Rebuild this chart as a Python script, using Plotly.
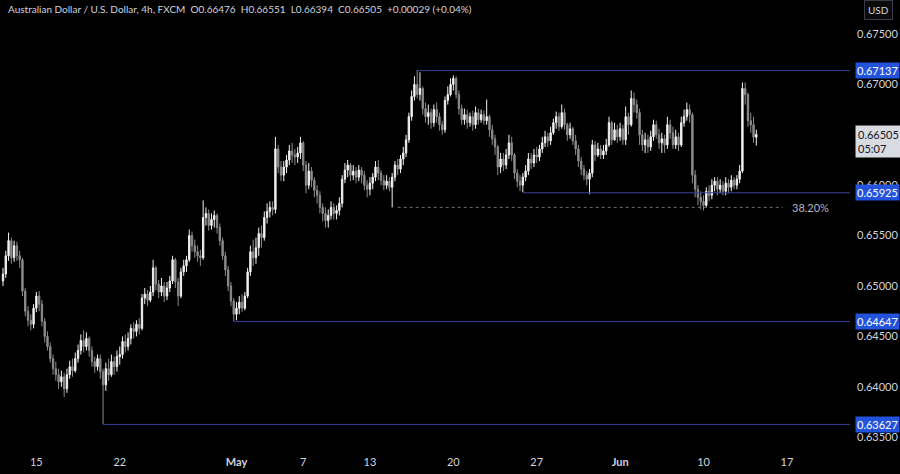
import plotly.graph_objects as go

# ---- data (prices in pips, 1 pip = 0.0001) ----
first_open = 6505
closes = [
    6512, 6530, 6545, 6528, 6540, 6530, 6526, 6495, 6475, 6466, 6462, 6478,
    6490, 6482, 6465, 6450, 6440, 6428,
    6418, 6412, 6405, 6410, 6398, 6412,
    6420, 6416, 6428, 6436, 6446, 6440,
    6448, 6436, 6425, 6420, 6428, 6415,
    6402, 6418, 6412, 6425, 6420, 6430,
    6432, 6445, 6440, 6448, 6458, 6455,
    6462, 6458, 6488, 6492, 6486, 6494,
    6518, 6502, 6494, 6500, 6490, 6498,
    6505, 6526, 6504, 6490, 6514, 6520,
    6526, 6550, 6540, 6534, 6530, 6528,
    6568, 6572, 6560, 6566, 6570, 6558,
    6545, 6530, 6516, 6500, 6485, 6472,
    6478, 6484, 6478, 6490, 6514, 6534,
    6528, 6538, 6552, 6548, 6568, 6574,
    6578, 6576, 6636, 6618, 6610, 6618,
    6625, 6634, 6630, 6628, 6632, 6642,
    6620, 6600, 6614, 6605, 6595, 6590,
    6578, 6572, 6565, 6570, 6578, 6572,
    6575, 6582, 6606, 6615, 6620, 6610,
    6614, 6608, 6615, 6610, 6600, 6596,
    6602, 6608, 6618, 6612, 6605, 6600,
    6604, 6598, 6608, 6620, 6616, 6626,
    6632, 6645, 6668, 6688, 6700, 6690,
    6696, 6676, 6668, 6672, 6662, 6675,
    6668, 6660, 6655, 6684, 6690, 6700,
    6706, 6690, 6676, 6665, 6670, 6662,
    6668, 6660, 6672, 6665, 6670, 6664,
    6668, 6655, 6646, 6638, 6618, 6626,
    6620, 6630, 6642, 6630, 6612, 6604,
    6600, 6608, 6614, 6626, 6622, 6630,
    6628, 6636, 6642, 6648, 6644, 6652,
    6662, 6668, 6658, 6672, 6660, 6650,
    6656, 6644, 6636, 6624, 6616, 6610,
    6606, 6612, 6640, 6630, 6636, 6630,
    6634, 6640, 6662, 6645, 6655, 6648,
    6656, 6645, 6668, 6660, 6686, 6680,
    6672, 6650, 6640, 6645, 6638, 6648,
    6660, 6650, 6642, 6646, 6640, 6660,
    6652, 6640, 6648, 6640, 6662, 6668,
    6675, 6670, 6610, 6596, 6588, 6584,
    6580, 6594, 6590, 6600, 6604, 6596,
    6600, 6594, 6602, 6598, 6605, 6600,
    6606, 6614, 6696, 6690, 6664, 6660,
    6647.6, 6650.5,
]
highs = [
    6518, 6535, 6553, 6548, 6545, 6544, 6535, 6528, 6498, 6480, 6472, 6482,
    6494, 6495, 6486, 6468, 6455, 6444,
    6432, 6425, 6418, 6416, 6414, 6418,
    6426, 6428, 6434, 6442, 6452, 6456,
    6454, 6450, 6440, 6430, 6432, 6432,
    6418, 6424, 6428, 6432, 6430, 6436,
    6440, 6450, 6452, 6454, 6462, 6464,
    6466, 6468, 6492, 6498, 6496, 6500,
    6526, 6520, 6506, 6508, 6504, 6504,
    6510, 6530, 6528, 6508, 6518, 6526,
    6530, 6556, 6554, 6546, 6540, 6536,
    6585, 6578, 6576, 6572, 6575, 6572,
    6562, 6548, 6534, 6520, 6504, 6488,
    6484, 6490, 6492, 6494, 6518, 6540,
    6546, 6548, 6558, 6560, 6574, 6582,
    6584, 6584, 6648, 6640, 6624, 6624,
    6630, 6640, 6642, 6636, 6638, 6648,
    6644, 6624, 6622, 6618, 6608, 6600,
    6594, 6582, 6578, 6576, 6584, 6582,
    6580, 6588, 6610, 6622, 6625, 6622,
    6620, 6618, 6620, 6618, 6614, 6605,
    6608, 6612, 6624, 6625, 6615, 6610,
    6610, 6608, 6612, 6624, 6626, 6630,
    6638, 6650, 6672, 6694, 6708, 6714,
    6712, 6698, 6682, 6680, 6676, 6680,
    6682, 6672, 6664, 6688, 6698, 6706,
    6709, 6708, 6694, 6680, 6676, 6675,
    6672, 6674, 6678, 6676, 6675, 6674,
    6685, 6670, 6660, 6650, 6640, 6632,
    6632, 6636, 6650, 6648, 6632, 6616,
    6610, 6612, 6620, 6632, 6632, 6636,
    6638, 6640, 6648, 6654, 6652, 6658,
    6666, 6673, 6672, 6680, 6676, 6662,
    6662, 6658, 6650, 6640, 6628, 6620,
    6614, 6616, 6645, 6644, 6642, 6640,
    6640, 6646, 6668, 6664, 6662, 6660,
    6662, 6660, 6678, 6672, 6694, 6692,
    6685, 6676, 6655, 6652, 6650, 6654,
    6665, 6664, 6656, 6652, 6650, 6668,
    6665, 6658, 6655, 6652, 6668, 6675,
    6682, 6680, 6672, 6615, 6600, 6594,
    6590, 6598, 6600, 6606, 6608, 6608,
    6606, 6604, 6608, 6606, 6610, 6608,
    6610, 6620, 6702, 6702, 6692, 6672,
    6668, 6655.1,
]
lows = [
    6500, 6508, 6525, 6522, 6524, 6525, 6518, 6490, 6470, 6460, 6456, 6458,
    6474, 6475, 6460, 6444, 6436, 6424,
    6412, 6406, 6398, 6400, 6390, 6394,
    6408, 6410, 6414, 6424, 6432, 6434,
    6436, 6430, 6420, 6414, 6416, 6408,
    6363, 6396, 6406, 6410, 6412, 6415,
    6422, 6428, 6434, 6436, 6442, 6448,
    6450, 6452, 6456, 6482, 6480, 6484,
    6490, 6496, 6488, 6490, 6484, 6486,
    6494, 6502, 6498, 6480, 6488, 6510,
    6514, 6524, 6534, 6528, 6524, 6520,
    6526, 6560, 6555, 6556, 6558, 6552,
    6540, 6526, 6510, 6495, 6480, 6465,
    6466, 6472, 6474, 6476, 6488, 6510,
    6520, 6522, 6530, 6538, 6545, 6562,
    6568, 6570, 6572, 6612, 6604, 6604,
    6612, 6620, 6622, 6620, 6622, 6626,
    6614, 6592, 6596, 6598, 6588, 6582,
    6572, 6564, 6558, 6558, 6566, 6566,
    6566, 6570, 6578, 6602, 6608, 6604,
    6605, 6602, 6604, 6602, 6595, 6588,
    6590, 6596, 6604, 6605, 6600, 6595,
    6596, 6594, 6578, 6604, 6610, 6612,
    6620, 6628, 6642, 6664, 6684, 6686,
    6684, 6670, 6662, 6660, 6656, 6658,
    6662, 6654, 6650, 6652, 6680, 6688,
    6694, 6686, 6670, 6660, 6660, 6656,
    6658, 6654, 6656, 6660, 6662, 6660,
    6660, 6648, 6640, 6630, 6610, 6612,
    6614, 6616, 6626, 6624, 6606, 6598,
    6594, 6593, 6604, 6610, 6616, 6618,
    6622, 6624, 6632, 6638, 6638, 6640,
    6650, 6656, 6654, 6656, 6655, 6644,
    6646, 6640, 6630, 6618, 6610, 6605,
    6600, 6591, 6608, 6624, 6628, 6626,
    6626, 6630, 6638, 6640, 6644, 6642,
    6644, 6640, 6640, 6650, 6658, 6672,
    6666, 6640, 6634, 6632, 6632, 6634,
    6644, 6646, 6636, 6632, 6632, 6636,
    6646, 6636, 6636, 6634, 6638, 6658,
    6664, 6662, 6602, 6588, 6580, 6576,
    6575, 6578, 6584, 6586, 6594, 6590,
    6592, 6590, 6590, 6592, 6594, 6596,
    6596, 6602, 6612, 6680, 6658, 6652,
    6642, 6639.4,
]

# tick labels (bar index of the first 4h bar of each labelled day)
tick_bars = [12, 42, 84, 108, 132, 162, 192, 222, 252, 282]
tick_text = ["15", "22", "<b>May</b>", "7", "13", "20", "27", "<b>Jun</b>", "10", "17"]

# horizontal levels and the bar where each starts
levels = [0.67137, 0.65925, 0.64647, 0.63627]
level_start = [149, 187, 83, 36]
fib_level = 0.6578
fib_start, fib_end = 142, 280.5
fib_label = "38.20%"

y_ticks = [0.635, 0.640, 0.645, 0.650, 0.655, 0.660, 0.670, 0.675]
last_price = 0.66505
countdown = "05:07"
title = ("Australian Dollar / U.S. Dollar, 4h, FXCM&nbsp;&nbsp;O0.66476&nbsp;&nbsp;H0.66551"
         "&nbsp;&nbsp;L0.66394&nbsp;&nbsp;C0.66505&nbsp;&nbsp;+0.00029 (+0.04%)")

# ---- build ----
scale = 10000.0
c = [v / scale for v in closes]
h = [v / scale for v in highs]
l = [v / scale for v in lows]
o = [first_open / scale] + c[:-1]
x = list(range(len(c)))

FONT = "Lato"
X_MAX = 304.7

fig = go.Figure()
fig.add_trace(go.Candlestick(
    x=x, open=o, high=h, low=l, close=c,
    increasing=dict(line=dict(color="#f2f2f2", width=1), fillcolor="#f2f2f2"),
    decreasing=dict(line=dict(color="#8c8c8c", width=1), fillcolor="#8c8c8c"),
    whiskerwidth=0, hoverinfo="skip",
))

for lv, st in zip(levels, level_start):
    fig.add_trace(go.Scatter(x=[st, X_MAX + 2], y=[lv, lv], mode="lines",
                             line=dict(color="#33409a", width=1), hoverinfo="skip"))

fig.add_trace(go.Scatter(x=[fib_start, fib_end], y=[fib_level, fib_level], mode="lines",
                         line=dict(color="#6b6e78", width=1, dash="dot"), hoverinfo="skip"))

annotations = [
    dict(text=title, xref="paper", yref="paper", x=0.007, y=1 - 9 / 450,
         xanchor="left", yanchor="middle", showarrow=False,
         font=dict(family=FONT, size=10, color="#d1d4dc")),
    dict(text=fib_label, xref="x", yref="y", x=283, y=fib_level, xanchor="left",
         yanchor="middle", showarrow=False, font=dict(family=FONT, size=11, color="#b2b5be")),
    dict(text="USD", xref="paper", yref="paper", x=1 + 28 / 850, y=1 - 10 / 450,
         xanchor="center", yanchor="middle", showarrow=False,
         font=dict(family=FONT, size=10, color="#d1d4dc"),
         bgcolor="#0b0b0b", bordercolor="#3a3d47", borderwidth=1, borderpad=3),
]
for lv in levels:
    annotations.append(dict(text=f"{lv:.5f}", xref="paper", yref="y", x=1 + 5 / 850, y=lv,
                            xanchor="left", yanchor="middle", showarrow=False,
                            font=dict(family=FONT, size=11, color="#ffffff"),
                            bgcolor="#2353dc", borderpad=1))
annotations.append(dict(text=f"{last_price:.5f}<br>{countdown}", xref="paper", yref="y",
                        x=1 + 5 / 850, y=last_price, xanchor="left", yanchor="top", yshift=9,
                        align="left", showarrow=False,
                        font=dict(family=FONT, size=11, color="#131722"),
                        bgcolor="#d8dbe2", borderpad=2))

fig.update_layout(
    width=900, height=474,
    margin=dict(l=0, r=50, t=0, b=24),
    paper_bgcolor="#000000", plot_bgcolor="#000000",
    showlegend=False,
    annotations=annotations,
    xaxis=dict(range=[-1.08, X_MAX], tickvals=tick_bars, ticktext=tick_text,
               showgrid=False, zeroline=False, showline=False, ticks="",
               tickfont=dict(family=FONT, size=11, color="#d1d4dc"),
               rangeslider=dict(visible=False), ticklabelstandoff=4),
    yaxis=dict(side="right", range=[0.633733, 0.678373], tickvals=y_ticks,
               tickformat=".5f", showgrid=False, zeroline=False, showline=False, ticks="",
               tickfont=dict(family=FONT, size=11, color="#d1d4dc"), ticklabelstandoff=6),
)

fig.write_html("out.html", config={"displayModeBar": False},
               post_script="document.body.style.margin='0';document.body.style.background='#000';")
